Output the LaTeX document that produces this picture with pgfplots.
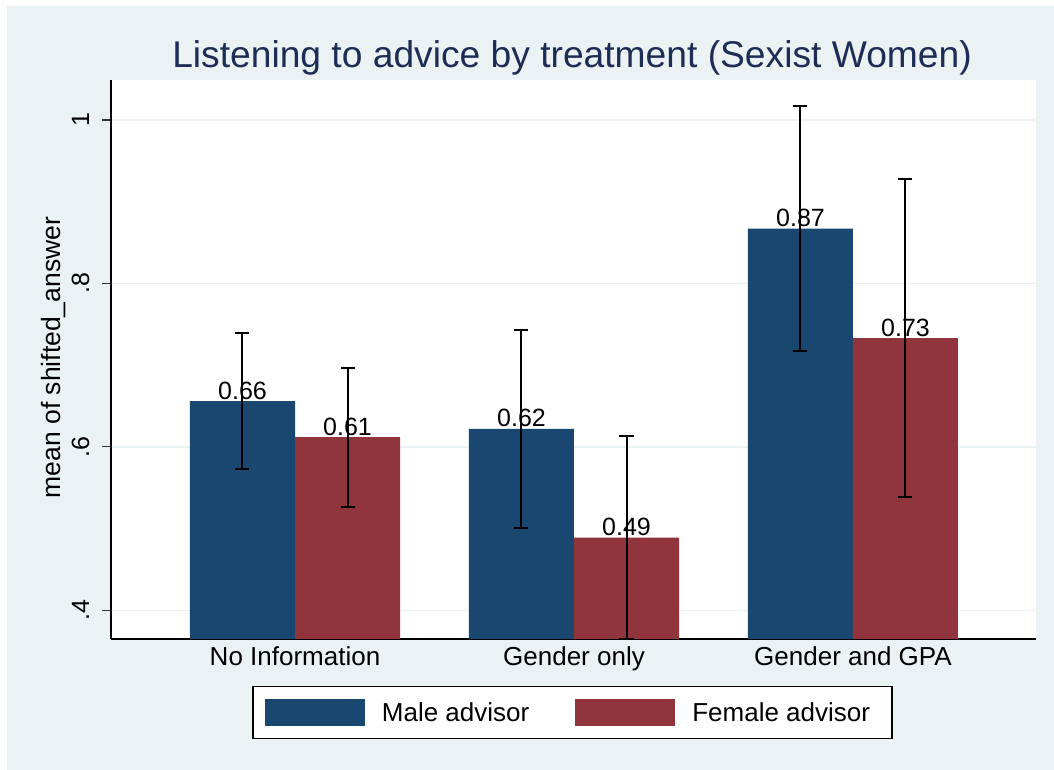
\documentclass[border=0pt]{standalone}
\usepackage{fontspec}
\setmainfont{Liberation Sans}
\usepackage{pgfplots}
\pgfplotsset{compat=1.18}
\definecolor{stnavy}{RGB}{26,71,111}
\definecolor{stmaroon}{RGB}{144,53,59}
\definecolor{stbg}{RGB}{234,242,243}
\definecolor{sttitle}{RGB}{30,45,85}

\begin{document}
\begin{tikzpicture}[x=1bp,y=1bp]
\path[use as bounding box] (0,0) rectangle (1054,770);
\fill[white] (0,0) rectangle (1054,770);
\fill[stbg] (7,0) rectangle (1054,764);
\begin{axis}[
  at={(111bp,131bp)}, anchor=south west,
  scale only axis, width=925bp, height=559bp,
  xmin=-0.6595, xmax=2.656,
  ymin=0.3649, ymax=1.049,
  axis background/.style={fill=white},
  axis x line*=bottom, axis y line*=left,
  axis line style={black, line width=1.2bp},
  /pgf/number format/assume math mode=true,
  ybar=0pt, bar width=105bp,
  xtick={0,1,2},
  xticklabels={No Information, Gender only, Gender and GPA},
  xtick style={draw=none},
  xticklabel style={anchor=base, inner sep=0pt, yshift=-18bp,
    font=\fontsize{26bp}{26bp}\selectfont},
  ytick={0.4,0.6,0.8,1},
  yticklabels={.4,.6,.8,1},
  ytick align=outside, major tick length=9bp,
  ytick style={black!80, line width=1.2bp},
  yticklabel style={xshift=-13bp, rotate=90, anchor=base, inner sep=0pt,
    font=\fontsize{25bp}{25bp}\selectfont},
  ymajorgrids, major grid style={stbg, line width=1.5bp},
  ylabel={mean of shifted\_answer},
  ylabel style={at={(axis description cs:-0.0551,0.5036)}, anchor=base,
    inner sep=0pt, font=\fontsize{26.5bp}{26.5bp}\selectfont},
  title={Listening to advice by treatment (Sexist Women)},
  title style={at={(axis description cs:0.4984,1.011)}, anchor=base,
    inner sep=0pt, text=sttitle, font=\fontsize{37.2bp}{37.2bp}\selectfont},
  nodes near coords={\pgfmathprintnumber[fixed,fixed zerofill,precision=2]{\pgfplotspointmeta}},
  nodes near coords style={anchor=base, inner sep=0pt, yshift=2bp, text=black,
    font=\fontsize{25bp}{25bp}\selectfont},
  error bars/y dir=both, error bars/y explicit,
  error bars/error bar style={black, line width=2bp},
  error bars/error mark options={black, line width=2bp, mark size=7bp, rotate=90},
  legend style={at={(axis description cs:0.4989,-0.0841)}, anchor=north,
    legend columns=2, draw=black, line width=1.2bp, fill=white,
    inner xsep=12bp, inner ysep=12.5bp,
    font=\fontsize{26bp}{26bp}\selectfont,
    /tikz/every odd column/.append style={column sep=17bp},
    /tikz/every even column/.append style={column sep=46bp},
    nodes={inner sep=0pt}},
  legend cell align=left,
]
% Male advisor: mean and half-width of the confidence interval
\addplot[fill=stnavy, draw=none,
  legend image code/.code={\fill[stnavy] (0bp,-13.5bp) rectangle (100bp,13.5bp);}]
  coordinates {(0,0.656) +- (0,0.0834) (1,0.622) +- (0,0.1212) (2,0.867) +- (0,0.1501)};
\addlegendentry{Male advisor}
% Female advisor
\addplot[fill=stmaroon, draw=none,
  legend image code/.code={\fill[stmaroon] (0bp,-13.5bp) rectangle (100bp,13.5bp);}]
  coordinates {(0,0.612) +- (0,0.0851) (1,0.489) +- (0,0.1244) (2,0.733) +- (0,0.1946)};
\addlegendentry{Female advisor\rule{10bp}{0pt}}
\end{axis}
\end{tikzpicture}
\end{document}
